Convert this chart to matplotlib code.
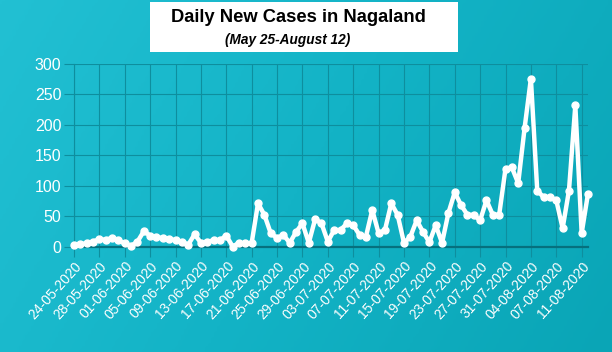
import numpy as np
import matplotlib
matplotlib.use("Agg")
import matplotlib.pyplot as plt
from matplotlib.colors import LinearSegmentedColormap

# daily new cases, one entry per report (May 24 - Aug 12)
cases = [2, 4, 5, 8, 12, 11, 14, 10, 5, 1,
         8, 25, 18, 15, 14, 13, 10, 8, 3, 20,
         6, 8, 10, 10, 18, 0, 6, 5, 6, 71,
         52, 22, 14, 19, 6, 24, 38, 6, 45, 38,
         8, 27, 27, 38, 35, 19, 16, 60, 22, 27,
         71, 52, 6, 16, 43, 24, 7, 35, 6, 55,
         89, 68, 52, 52, 43, 76, 52, 52, 128, 130,
         104, 194, 276, 92, 81, 81, 76, 30, 92, 232,
         22, 87]
tick_labels = ["24-05-2020", "28-05-2020", "01-06-2020", "05-06-2020", "09-06-2020",
               "13-06-2020", "17-06-2020", "21-06-2020", "25-06-2020", "29-06-2020",
               "03-07-2020", "07-07-2020", "11-07-2020", "15-07-2020", "19-07-2020",
               "23-07-2020", "27-07-2020", "31-07-2020", "04-08-2020", "07-08-2020",
               "11-08-2020"]
y_ticks = [0, 50, 100, 150, 200, 250, 300]

plt.rcParams["font.family"] = ["Liberation Sans", "DejaVu Sans"]

fig = plt.figure(figsize=(6.12, 3.52), dpi=100)

# teal gradient background
bg = fig.add_axes([0, 0, 1, 1], zorder=-10)
cmap = LinearSegmentedColormap.from_list("teal", ["#22c0d3", "#13b3c6", "#0aa5b6"])
gx, gy = np.meshgrid(np.linspace(0, 1, 200), np.linspace(0, 1, 120))
bg.imshow(0.75 * gx + 0.25 * gy, cmap=cmap, aspect="auto", extent=[0, 1, 0, 1])
bg.set_axis_off()

ax = fig.add_axes([0.1209, 0.2997, 0.8399, 0.5185])
ax.patch.set_alpha(0)
x = np.arange(len(cases))
ax.plot(x, cases, color="white", lw=3.2, marker="o", ms=5, mec="white", mfc="white",
        solid_joinstyle="round", zorder=3, clip_on=False)

ax.set_xlim(0, len(cases) - 1)
ax.set_ylim(0, 300)
ax.set_yticks(y_ticks)
ax.set_xticks(np.arange(0, 4 * len(tick_labels), 4))
ax.set_xticklabels(tick_labels, rotation=48, ha="right", rotation_mode="anchor",
                   fontsize=10, color="white")
ax.tick_params(axis="y", labelsize=11.5, labelcolor="white", length=7, color="#0e8e9e", pad=2)
ax.tick_params(axis="x", length=7, color="#0e8e9e", pad=2)
ax.grid(True, color="#0e8e9e", lw=0.8)
for s in ["top", "right"]:
    ax.spines[s].set_visible(False)
ax.spines["left"].set_color("#0e8e9e")
ax.spines["bottom"].set_color("#06707e")
ax.spines["bottom"].set_linewidth(1.6)

# title box
fig.patches.append(plt.Rectangle((150 / 612, 1 - 52 / 352), 308 / 612, 50 / 352,
                                 transform=fig.transFigure, facecolor="white",
                                 edgecolor="none", zorder=5))
fig.text(298 / 612, 1 - 17 / 352, "Daily New Cases in Nagaland", ha="center", va="center",
         fontsize=13.2, fontweight="bold", color="black", zorder=6)
fig.text(288 / 612, 1 - 40 / 352, "(May 25-August 12)", ha="center", va="center",
         fontsize=9.8, fontweight="bold", style="italic", color="black", zorder=6)

fig.savefig("out.png", dpi=100)
